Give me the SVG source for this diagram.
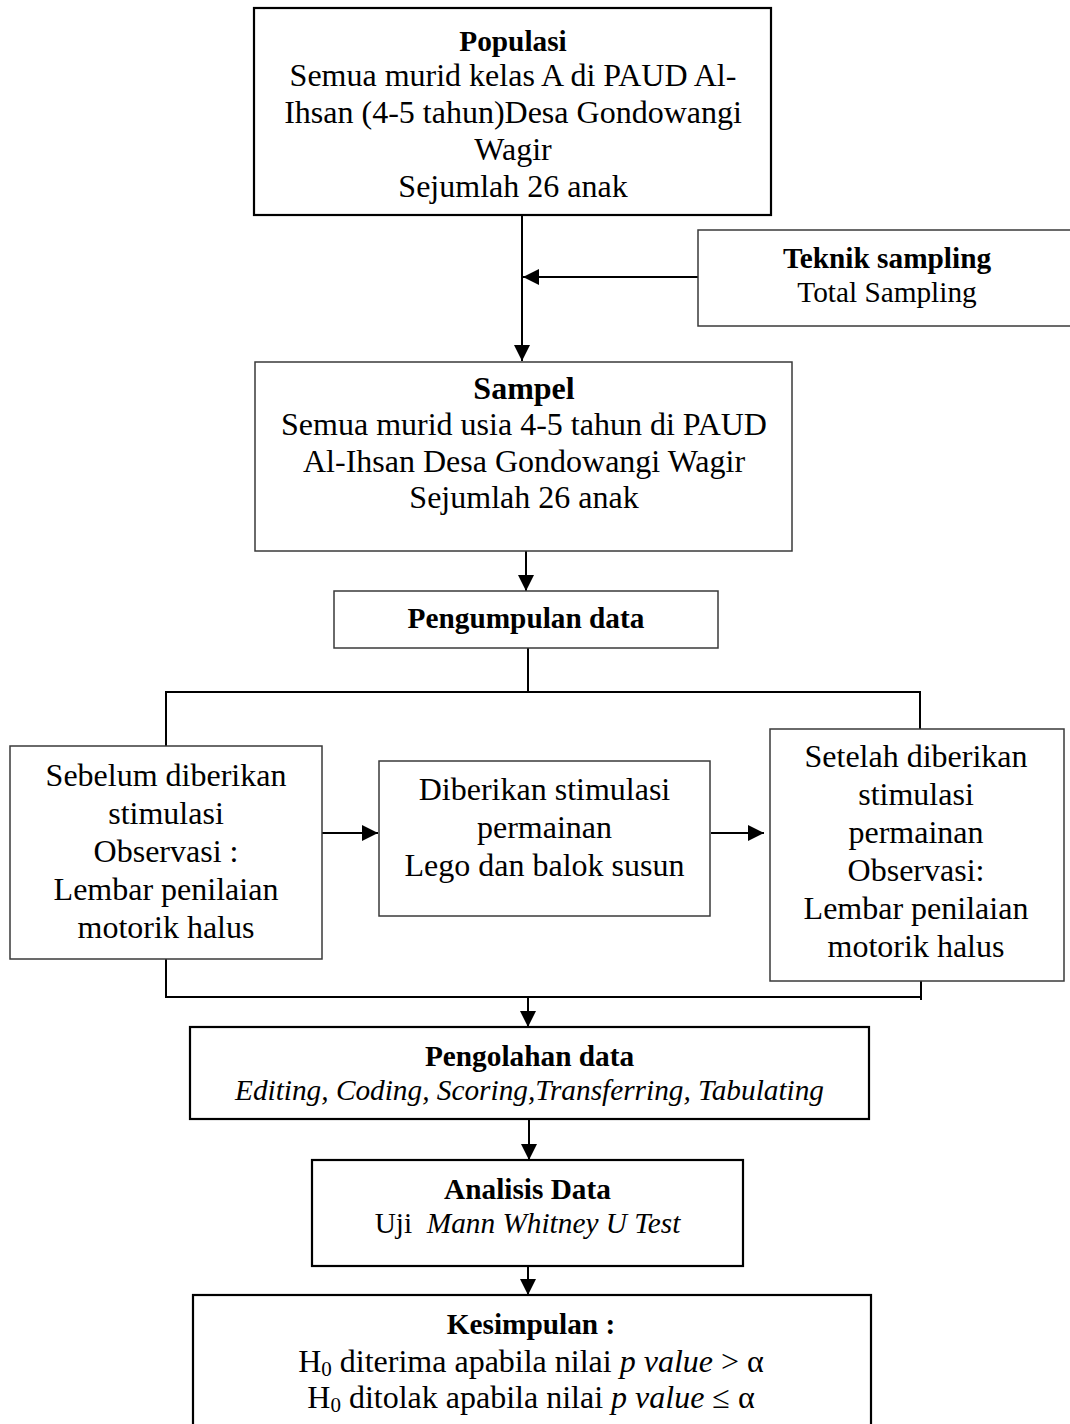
<svg xmlns="http://www.w3.org/2000/svg" width="1070" height="1424" viewBox="0 0 1070 1424">
<defs>
<style>
text{font-family:"Liberation Serif","Times New Roman",serif;fill:#000;text-anchor:middle}
.t{font-size:29.3px;font-weight:bold}
.b{font-size:32px}
.s{font-size:29.3px}
.i{font-style:italic}
.box{fill:#fff;stroke:#3a3a3a;stroke-width:1.5}
.boxk{fill:#fff;stroke:#000;stroke-width:2.2}
.ln{fill:none;stroke:#000;stroke-width:2}
.ar{fill:none;stroke:#000;stroke-width:2;marker-end:url(#ah)}
</style>
<marker id="ah" markerUnits="userSpaceOnUse" markerWidth="16" markerHeight="16" refX="16" refY="8" orient="auto">
<path d="M0,0 L16,8 L0,16 Z" fill="#000"/>
</marker>
</defs>
<rect width="1070" height="1424" fill="#fff"/>

<g id="connectors">
<path class="ar" d="M522,215 V361"/>
<path class="ar" d="M698,277 H523"/>
<path class="ar" d="M526,551 V591"/>
<path class="ln" d="M528,648 V692"/>
<path class="ln" d="M166,746 V692 H920 V729"/>
<path class="ar" d="M322,833 H378"/>
<path class="ar" d="M711,833 H764"/>
<path class="ln" d="M166,959 V997 H921"/>
<path class="ln" d="M921,981 V1000"/>
<path class="ar" d="M528,997 V1027"/>
<path class="ar" d="M529,1119 V1160"/>
<path class="ar" d="M528,1266 V1295"/>
</g>

<g id="populasi">
<rect class="boxk" x="254" y="8" width="517" height="207"/>
<text class="t" x="513" y="51">Populasi</text>
<text class="b" x="513" y="86">Semua murid kelas A di PAUD Al-</text>
<text class="b" x="513" y="123">Ihsan (4-5 tahun)Desa Gondowangi</text>
<text class="b" x="513" y="160">Wagir</text>
<text class="b" x="513" y="197">Sejumlah 26 anak</text>
</g>

<g id="teknik">
<rect class="box" x="698" y="230" width="373" height="96"/>
<text class="t" x="887" y="268">Teknik sampling</text>
<text class="s" x="887" y="302">Total Sampling</text>
</g>

<g id="sampel">
<rect class="box" x="255" y="362" width="537" height="189"/>
<text class="t" x="524" y="399" style="font-size:32px">Sampel</text>
<text class="b" x="524" y="435">Semua murid usia 4-5 tahun di PAUD</text>
<text class="b" x="524" y="472">Al-Ihsan Desa Gondowangi Wagir</text>
<text class="b" x="524" y="508">Sejumlah 26 anak</text>
</g>

<g id="pengumpulan">
<rect class="box" x="334" y="591" width="384" height="57"/>
<text class="t" x="526" y="628">Pengumpulan data</text>
</g>

<g id="sebelum">
<rect class="box" x="10" y="746" width="312" height="213"/>
<text class="b" x="166" y="786">Sebelum diberikan</text>
<text class="b" x="166" y="824">stimulasi</text>
<text class="b" x="166" y="862">Observasi :</text>
<text class="b" x="166" y="900">Lembar penilaian</text>
<text class="b" x="166" y="938">motorik halus</text>
</g>

<g id="stimulasi">
<rect class="box" x="379" y="761" width="331" height="155"/>
<text class="b" x="544.5" y="800">Diberikan stimulasi</text>
<text class="b" x="544.5" y="838">permainan</text>
<text class="b" x="544.5" y="876">Lego dan balok susun</text>
</g>

<g id="setelah">
<rect class="box" x="770" y="729" width="294" height="252"/>
<text class="b" x="916" y="767">Setelah diberikan</text>
<text class="b" x="916" y="805">stimulasi</text>
<text class="b" x="916" y="843">permainan</text>
<text class="b" x="916" y="881">Observasi:</text>
<text class="b" x="916" y="919">Lembar penilaian</text>
<text class="b" x="916" y="957">motorik halus</text>
</g>

<g id="pengolahan">
<rect class="boxk" x="190" y="1027" width="679" height="92"/>
<text class="t" x="529.5" y="1066">Pengolahan data</text>
<text class="s i" x="529.5" y="1100">Editing, Coding, Scoring,Transferring, Tabulating</text>
</g>

<g id="analisis">
<rect class="boxk" x="312" y="1160" width="431" height="106"/>
<text class="t" x="527.5" y="1199">Analisis Data</text>
<text class="s" x="527.5" y="1233" xml:space="preserve">Uji  <tspan class="i">Mann Whitney U Test</tspan></text>
</g>

<g id="kesimpulan">
<rect class="boxk" x="193" y="1295" width="678" height="140"/>
<text class="t" x="531" y="1334">Kesimpulan :</text>
<text class="b" x="531" y="1372">H<tspan font-size="21" dy="4">0</tspan><tspan dy="-4"> diterima apabila nilai </tspan><tspan class="i">p value</tspan> &gt; α</text>
<text class="b" x="531" y="1408">H<tspan font-size="21" dy="4">0</tspan><tspan dy="-4"> ditolak apabila nilai </tspan><tspan class="i">p value</tspan> ≤ α</text>
</g>
</svg>
